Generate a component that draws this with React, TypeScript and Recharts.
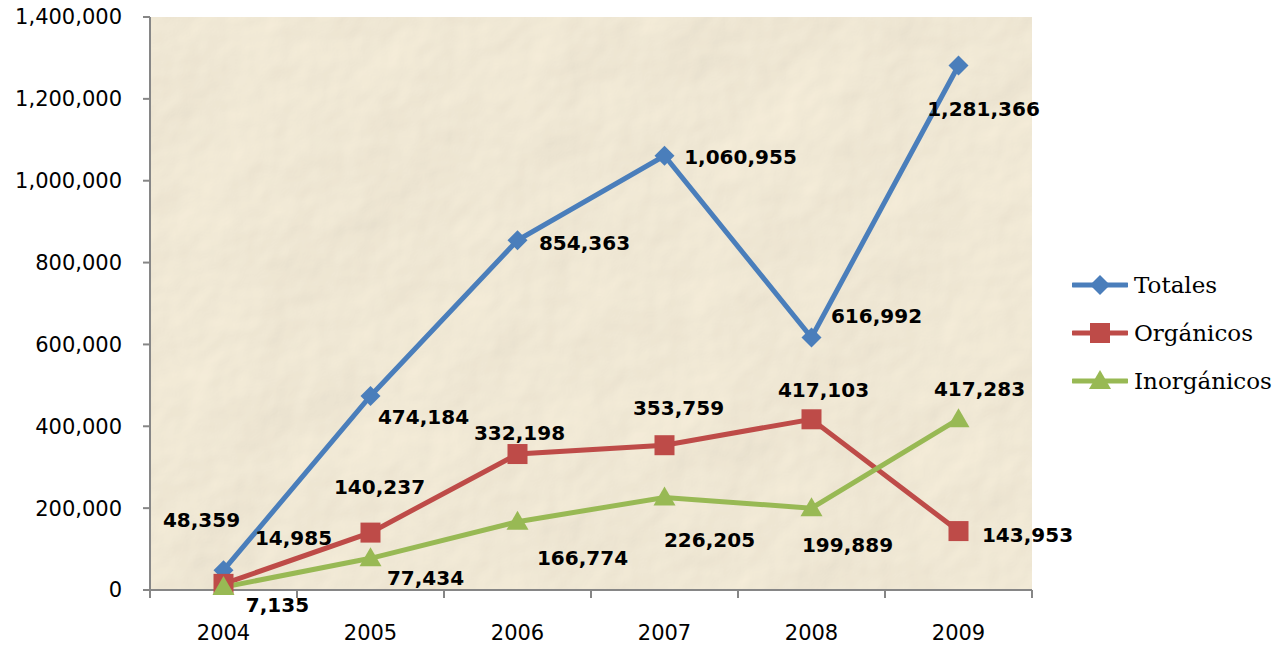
import { LineChart, Line, XAxis, YAxis, CartesianGrid, LabelList } from "recharts";

const years = ["2004", "2005", "2006", "2007", "2008", "2009"];
const totales = [48359, 474184, 854363, 1060955, 616992, 1281366];
const organicos = [14985, 140237, 332198, 353759, 417103, 143953];
const inorganicos = [7135, 77434, 166774, 226205, 199889, 417283];
const yTicks = [0, 200000, 400000, 600000, 800000, 1000000, 1200000, 1400000];

// where each value label sits relative to its point
const totalesOffsets = [[-22, -50], [53, 21], [67, 3], [76, 1], [65, -21], [25, 43]];
const organicosOffsets = [[70, -46], [9, -46], [2, -21], [14, -37], [12, -29], [69, 4]];
const inorganicosOffsets = [[54, 18], [55, 20], [65, 36], [45, 43], [36, 37], [21, -30]];

const data = years.map((year, i) => ({
  year,
  Totales: totales[i],
  Orgánicos: organicos[i],
  Inorgánicos: inorganicos[i],
}));

const series = [
  { key: "Totales", color: "#4a7ebb", shape: "diamond", offsets: totalesOffsets },
  { key: "Orgánicos", color: "#be4b48", shape: "square", offsets: organicosOffsets },
  { key: "Inorgánicos", color: "#98b954", shape: "triangle", offsets: inorganicosOffsets },
];

const HALF_BAND = 73.5;
const AXIS = "#868686";
const SANS = "DejaVu Sans";

function Marker({ cx, cy, shape, color }: any) {
  if (cx == null || cy == null) return null;
  if (shape === "diamond") {
    return <path d={`M${cx},${cy - 10}L${cx + 10},${cy}L${cx},${cy + 10}L${cx - 10},${cy}Z`} fill={color} />;
  }
  if (shape === "square") {
    return <rect x={cx - 10} y={cy - 10} width={20} height={20} fill={color} />;
  }
  return <path d={`M${cx},${cy - 11}L${cx + 11},${cy + 8}L${cx - 11},${cy + 8}Z`} fill={color} />;
}

function XTick({ x, y, payload, index }: any) {
  const last = index === years.length - 1;
  return (
    <g>
      <line x1={x - HALF_BAND} x2={x - HALF_BAND} y1={y - 8} y2={y} stroke={AXIS} strokeWidth={2} />
      {last && <line x1={x + HALF_BAND} x2={x + HALF_BAND} y1={y - 8} y2={y} stroke={AXIS} strokeWidth={2} />}
      <text x={x} y={y + 42} textAnchor="middle" fontFamily={SANS} fontSize={21} fill="#000">
        {payload.value}
      </text>
    </g>
  );
}

function makeLabel(offsets: number[][]) {
  return (props: any) => {
    const { x, y, value, index } = props;
    const [dx, dy] = offsets[index];
    return (
      <text
        x={x + dx}
        y={y + dy}
        textAnchor="middle"
        dominantBaseline="central"
        fontFamily={SANS}
        fontWeight="bold"
        fontSize={20}
        fill="#000"
      >
        {Number(value).toLocaleString("en-US")}
      </text>
    );
  };
}

function LegendIcon({ shape, color }: any) {
  return (
    <svg width={56} height={24} style={{ display: "block" }}>
      <line x1={1} x2={55} y1={12} y2={12} stroke={color} strokeWidth={5} strokeLinecap="round" />
      <Marker cx={28} cy={12} shape={shape} color={color} />
    </svg>
  );
}

export default function App() {
  return (
    <div style={{ position: "absolute", left: 0, top: 0, width: 1280, height: 650, background: "#fff" }}>
      <LineChart width={1280} height={650} data={data} margin={{ top: 17, right: 248, bottom: 0, left: 0 }}>
        <defs>
          <filter id="crumple" x="0" y="0" width="100%" height="100%">
            <feTurbulence type="fractalNoise" baseFrequency="0.005" numOctaves="5" seed="7" result="noise" />
            <feDiffuseLighting in="noise" lightingColor="#fdf4e0" surfaceScale="5" result="light">
              <feDistantLight azimuth="225" elevation="62" />
            </feDiffuseLighting>
          </filter>
          <pattern id="paper" patternUnits="userSpaceOnUse" x="0" y="0" width="1280" height="650">
            <rect x="0" y="0" width="1280" height="650" fill="#f3e8d1" filter="url(#crumple)" />
          </pattern>
        </defs>
        <CartesianGrid horizontal={false} vertical={false} fill="url(#paper)" fillOpacity={1} />
        <XAxis
          dataKey="year"
          padding={{ left: HALF_BAND, right: HALF_BAND }}
          height={60}
          tickSize={8}
          tickMargin={0}
          tickLine={false}
          axisLine={{ stroke: AXIS, strokeWidth: 2 }}
          tick={<XTick />}
        />
        <YAxis
          width={150}
          domain={[0, 1400000]}
          ticks={yTicks}
          interval={0}
          tickSize={7}
          tickMargin={21}
          axisLine={{ stroke: AXIS, strokeWidth: 2 }}
          tickLine={{ stroke: AXIS, strokeWidth: 2 }}
          tick={{ fontFamily: SANS, fontSize: 21, fill: "#000" }}
          tickFormatter={(v: number) => v.toLocaleString("en-US")}
        />
        {series.map((s) => (
          <Line
            key={s.key}
            dataKey={s.key}
            type="linear"
            stroke={s.color}
            strokeWidth={5}
            dot={(p: any) => <Marker key={`${s.key}-${p.index}`} cx={p.cx} cy={p.cy} shape={s.shape} color={s.color} />}
            activeDot={false}
            isAnimationActive={false}
          >
            <LabelList dataKey={s.key} content={makeLabel(s.offsets)} />
          </Line>
        ))}
      </LineChart>
      <div style={{ position: "absolute", left: 1072, top: 261 }}>
        {series.map((s) => (
          <div key={s.key} style={{ display: "flex", alignItems: "center", height: 48 }}>
            <LegendIcon shape={s.shape} color={s.color} />
            <span style={{ fontFamily: "DejaVu Serif", fontSize: 23, marginLeft: 6, color: "#000", whiteSpace: "nowrap" }}>
              {s.key}
            </span>
          </div>
        ))}
      </div>
    </div>
  );
}
